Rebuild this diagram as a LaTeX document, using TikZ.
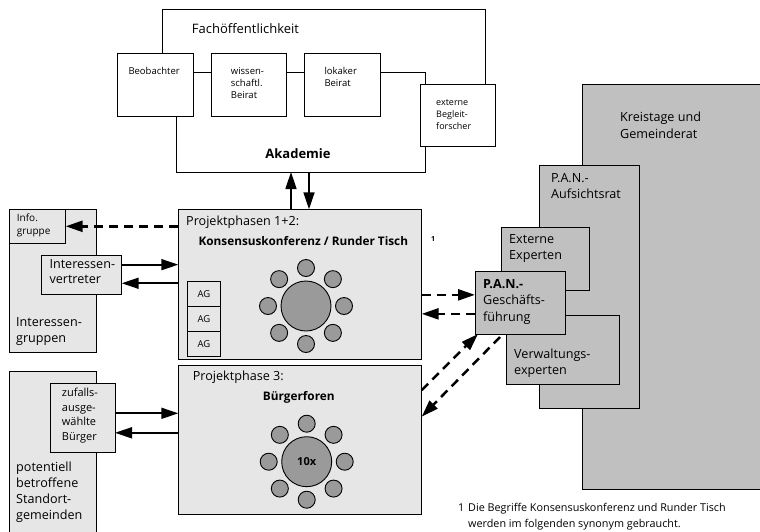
\documentclass[tikz,border=0pt]{standalone}
\usepackage{fontspec}
\setmainfont{Open Sans}
\usetikzlibrary{arrows.meta,calc}
\definecolor{paleG}{HTML}{E6E6E6}
\definecolor{midG}{HTML}{C0C0C0}
\definecolor{seatG}{HTML}{9A9A9A}
\begin{document}
\begin{tikzpicture}[x=1pt,y=-1pt,
  box/.style={draw=black, line width=0.9pt, anchor=north west, inner sep=0pt, outer sep=0pt},
  wbox/.style={box, fill=white},
  lbox/.style={box, fill=paleG},
  gbox/.style={box, fill=midG},
  % multi-line labels are anchored at the baseline of their last line
  txt/.style={anchor=base west, inner sep=0pt, align=left, font=\fontsize{12.6}{16.5}\selectfont},
  stxt/.style={txt, font=\fontsize{9.5}{12.4}\selectfont},
  btxt/.style={anchor=base, inner sep=0pt, font=\bfseries\fontsize{11.8}{14}\selectfont},
  seat/.style={circle, draw=black, line width=0.9pt, fill=seatG, minimum size=17pt, inner sep=0pt},
  tabl/.style={circle, draw=black, line width=0.9pt, fill=seatG, minimum size=50pt, inner sep=0pt},
  arr/.style={line width=1.7pt, -{Triangle[length=17pt,width=11pt]}},
  darr/.style={line width=2.5pt, dash pattern=on 9pt off 6pt, -{Triangle[length=17pt,width=11pt]}},
  ln/.style={line width=0.9pt}
]
\clip (0,0) rectangle (760,531);
\fill[white] (0,0) rectangle (760,531);

% --- Fachoeffentlichkeit / Akademie ---
\node[wbox, minimum width=76pt, minimum height=63pt] (beob) at (117,53) {};
\node[wbox, minimum width=75pt, minimum height=63pt] (wiss) at (211.7,53) {};
\node[wbox, minimum width=75.7pt, minimum height=63pt] (lok) at (304.3,53) {};
\node[wbox, minimum width=75pt, minimum height=62.7pt] (ext) at (420,84) {};
\coordinate (fachTR) at (485,9);
\coordinate (akaBR) at (425,172);
\draw[ln] ([yshift=-19pt]beob.north east) -- ([yshift=-19pt]wiss.north west);
\draw[ln] ([yshift=-19pt]wiss.north east) -- ([yshift=-19pt]lok.north west);
\draw[ln] ([yshift=-19pt]lok.north east) -| ([xshift=5pt]ext.north west);
\draw[ln] ([xshift=45pt]beob.north west) |- (fachTR) -- (fachTR |- ext.north);
\draw[ln] ([xshift=-17pt]beob.south east) |- (akaBR) -- (akaBR |- ext.south);

\node[txt, font=\fontsize{13}{16}\selectfont] (fachT) at (191.7,33.3) {Fachöffentlichkeit};
\node[stxt] (beobT) at (128.3,74) {Beobachter};
\node[stxt] (wissT) at (230.7,98.8) {wissen-\\schaftl.\\Beirat};
\node[stxt] (lokT) at (324.3,86.4) {lokaker\\Beirat};
\node[stxt, font=\fontsize{9}{12.2}\selectfont] (extT) at (436,129.4) {externe\\Begleit-\\forscher};
\node[btxt, font=\bfseries\fontsize{13}{15}\selectfont] (akaT) at (298,158.3) {Akademie};

% --- Projektphasen 1+2 ---
\node[lbox, minimum width=243.4pt, minimum height=149.7pt] (pp) at (178.3,209.3) {};
\node[txt] (ppT) at (186,225) {Projektphasen 1+2:};
\node[btxt] (kkT) at (303.3,245) {Konsensuskonferenz / Runder Tisch};
\node[anchor=base west, inner sep=0pt, font=\bfseries\fontsize{7}{8}\selectfont] (fnA) at (431,241.5) {1};
\foreach \yy [count=\i] in {281.7,306.7,331.7}
  \node[lbox, minimum width=33.4pt, minimum height=24.3pt, font=\fontsize{9.5}{11}\selectfont] (ag\i) at (187.3,\yy) {AG};
\node[tabl] (t1) at (306,306) {};
\foreach \a [count=\i] in {0,45,...,315}
  \node[seat] (sa\i) at ($(t1)+(\a:38)$) {};

% --- Projektphase 3 ---
\node[lbox, minimum width=243.4pt, minimum height=149.3pt] (bf) at (178.3,365) {};
\node[txt] (bfT0) at (192.7,380) {Projektphase 3:};
\node[btxt] (bfT) at (298.8,400.7) {Bürgerforen};
\node[tabl, font=\bfseries\fontsize{11}{13}\selectfont] (t2) at (306.7,461.7) {10x};
\foreach \a [count=\i] in {0,45,...,315}
  \node[seat] (sb\i) at ($(t2)+(\a:38)$) {};

% --- Interessengruppen ---
\node[lbox, minimum width=87.4pt, minimum height=143.4pt] (ig) at (9.3,209.3) {};
\node[lbox, minimum width=56.4pt, minimum height=34pt] (info) at (9.3,209.3) {};
\node[lbox, minimum width=80.7pt, minimum height=39.3pt] (iv) at (41,255) {};
\node[txt, font=\fontsize{10}{12.6}\selectfont] (infoT) at (16.7,234.3) {Info.\\gruppe};
\node[txt, font=\fontsize{12.6}{15}\selectfont] (ivT) at (49.3,283.3) {Interessen-\\vertreter};
\node[txt] (igT) at (16,342.5) {Interessen-\\gruppen};

% --- Standortgemeinden ---
\node[lbox, minimum width=87.4pt, minimum height=170pt] (pg) at (9.3,371.7) {};
\node[lbox, minimum width=64.3pt, minimum height=69pt] (zb) at (50.7,383.3) {};
\node[txt, font=\fontsize{11}{14.5}\selectfont] (zbT) at (61.7,440) {zufalls-\\ausge-\\wählte\\Bürger};
\node[txt, font=\fontsize{12.6}{16}\selectfont] (pgT) at (16,519.7) {potentiell\\betroffene\\Standort-\\gemeinden};

% --- P.A.N. and councils ---
\node[gbox, minimum width=190pt, minimum height=405.3pt] (kt) at (582.7,84) {};
\node[gbox, minimum width=100.3pt, minimum height=243.3pt] (ar) at (539,165) {};
\node[gbox, minimum width=87.6pt, minimum height=62.3pt] (ee) at (501.7,227.7) {};
\node[gbox, minimum width=112.6pt, minimum height=69pt] (ve) at (506.7,315) {};
\node[gbox, minimum width=90.7pt, minimum height=62.3pt] (gf) at (475,271.7) {};
\node[txt] (ktT) at (620,138.2) {Kreistage und\\Gemeinderat};
\node[txt] (arT) at (551,198.5) {P.A.N.-\\Aufsichtsrat};
\node[txt] (eeT) at (509,259.8) {Externe\\Experten};
\node[txt] (gfT) at (483,321.3) {\textbf{P.A.N.-}\\Geschäfts-\\führung};
\node[txt] (veT) at (514,374.8) {Verwaltungs-\\experten};

% --- connectors ---
\draw[arr] ([xshift=-9pt]pp.north) -- ([xshift=-9pt]pp.north |- akaBR);
\draw[arr] ([xshift=9pt]pp.north |- akaBR) -- ([xshift=9pt]pp.north);
\draw[darr] (pp.west |- info.east) -- (info.east);
\draw[arr] ([yshift=10pt]iv.east) -- ([yshift=10pt]iv.east -| pp.west);
\draw[arr] ([yshift=-8.6pt]iv.east -| pp.west) -- ([yshift=-8.6pt]iv.east);
\draw[arr] ([yshift=4.5pt]zb.east) -- ([yshift=4.5pt]zb.east -| bf.west);
\draw[arr] ([yshift=-15pt]zb.east -| bf.west) -- ([yshift=-15pt]zb.east);
\draw[darr] ([yshift=8pt]gf.west -| pp.east) -- ([yshift=8pt]gf.west);
\draw[darr] ([yshift=-11pt]gf.west) -- ([yshift=-11pt]gf.west -| pp.east);
\draw[darr] ([yshift=49.6pt]bf.east) -- ([xshift=3pt]gf.south west);
\draw[darr] ([xshift=25pt,yshift=-3pt]gf.south west) -- ([yshift=23pt]bf.east);

% --- footnote ---
\node[txt, font=\fontsize{10.8}{16.5}\selectfont] (fnN) at (458,511) {1};
\node[txt, font=\fontsize{10.8}{16.5}\selectfont] (fnT) at (468,527.5) {Die Begriffe Konsensuskonferenz und Runder Tisch\\werden im folgenden synonym gebraucht.};
\end{tikzpicture}
\end{document}
